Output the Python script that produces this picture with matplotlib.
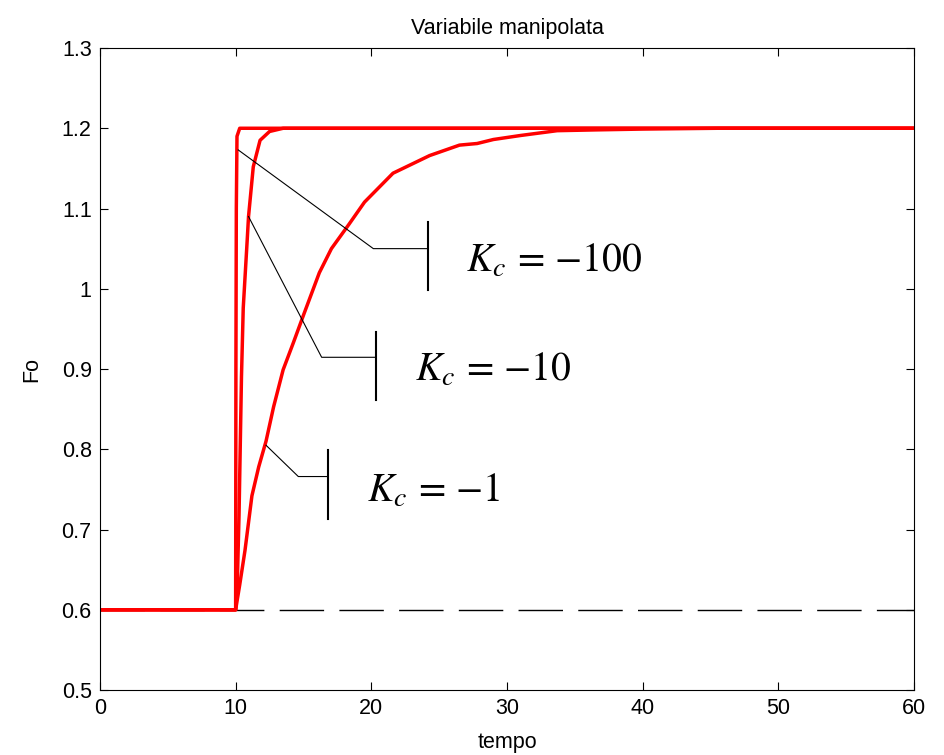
import matplotlib
matplotlib.use("Agg")
import matplotlib.pyplot as plt

plt.rcParams['font.family'] = ['Liberation Sans', 'DejaVu Sans']
plt.rcParams['mathtext.fontset'] = 'stix'

# step response of manipulated variable
t_100 = [0, 10.0, 10.02, 10.05, 10.1, 10.3, 60]
fo_100 = [0.6, 0.6, 0.9, 1.1, 1.19, 1.2, 1.2]

t_10 = [0, 10.0, 10.12, 10.25, 10.43, 10.56, 10.85, 10.95, 11.3, 11.8, 12.5, 13.5, 60]
fo_10 = [0.6, 0.6, 0.631, 0.718, 0.89, 0.976, 1.06, 1.09, 1.152, 1.185, 1.196, 1.2, 1.2]

t_1 = [0, 10.0, 10.3, 10.69, 11.2, 11.7, 12.24, 12.8, 13.5, 14.26, 15.02, 16.17,
       17.06, 18.34, 19.5, 21.6, 24.3, 26.5, 27.8, 29.0, 31.0, 33.7, 36.6, 40.0, 45.5, 60]
fo_1 = [0.6, 0.6, 0.631, 0.674, 0.742, 0.778, 0.81, 0.853, 0.899, 0.933, 0.968, 1.02,
        1.05, 1.08, 1.108, 1.144, 1.166, 1.179, 1.181, 1.186, 1.191, 1.197, 1.198, 1.199, 1.2, 1.2]

setpoint = 0.6

# annotation callouts: curve point -> elbow -> bar, label
labels = [r'$K_c\,=\,{-}100$', r'$K_c\,=\,{-}10$', r'$K_c\,=\,{-}1$']
start_pts = [(10.19, 1.173), (10.95, 1.090), (12.24, 0.805)]
elbow_pts = [(20.15, 1.050), (16.34, 0.9146), (14.62, 0.766)]
bar_x = [24.2, 20.32, 16.78]
bar_y = [(0.9984, 1.0835), (0.861, 0.9465), (0.713, 0.799)]
text_pos = [(27.0, 1.021), (23.2, 0.886), (19.65, 0.735)]

fig = plt.figure(figsize=(9.44, 7.55), dpi=100)
ax = fig.add_axes([0.1059, 0.0861, 0.8623, 0.8503])

ax.plot([0, 60], [setpoint, setpoint], color='black', lw=1, dashes=(32, 11))
ax.plot(t_1, fo_1, color='red', lw=2.5)
ax.plot(t_10, fo_10, color='red', lw=2.5)
ax.plot(t_100, fo_100, color='red', lw=2.5)

for lab, s, e, bx, by, tp in zip(labels, start_pts, elbow_pts, bar_x, bar_y, text_pos):
    ax.plot([s[0], e[0], bx], [s[1], e[1], e[1]], color='black', lw=0.8)
    ax.plot([bx, bx], by, color='black', lw=1.5)
    ax.text(tp[0], tp[1], lab, fontsize=28.5, ha='left', va='baseline')

ax.set_xlim(0, 60)
ax.set_ylim(0.5, 1.3)
ax.set_xticks([0, 10, 20, 30, 40, 50, 60])
ax.set_yticks([0.5, 0.6, 0.7, 0.8, 0.9, 1.0, 1.1, 1.2, 1.3])
ax.set_yticklabels(['0.5', '0.6', '0.7', '0.8', '0.9', '1', '1.1', '1.2', '1.3'])
ax.tick_params(direction='in', length=6, width=0.8, top=True, right=True,
               labelsize=15.5, pad=6)
for sp in ax.spines.values():
    sp.set_linewidth(0.8)

ax.set_title('Variabile manipolata', fontsize=15.5, pad=10)
ax.set_xlabel('tempo', fontsize=15.5, labelpad=9)
ax.set_ylabel('Fo', fontsize=15.5, labelpad=14)

fig.savefig('out.png', dpi=100)
